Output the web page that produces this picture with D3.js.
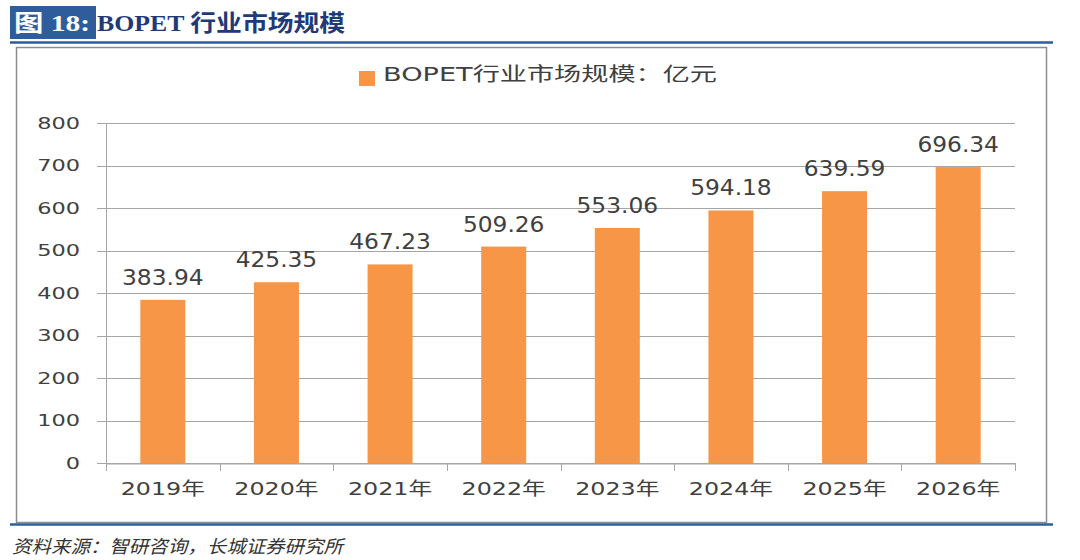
<!DOCTYPE html>
<html><head><meta charset="utf-8">
<script src="https://cdn.jsdelivr.net/npm/d3@7"></script>
<style>body{margin:0;background:#fff;} svg{display:block;}</style>
</head><body>
<svg id="c" width="1080" height="560"></svg>
<script>
const categories = ["2019年","2020年","2021年","2022年","2023年","2024年","2025年","2026年"];
const values = [383.94,425.35,467.23,509.26,553.06,594.18,639.59,696.34];
const yTicks = [0,100,200,300,400,500,600,700,800];
const seriesName = "BOPET行业市场规模：亿元";

(function(){
const svg = d3.select("#c");
const font = "'DejaVu Sans','Noto Sans CJK SC',sans-serif";
function stretch(sel, k){
  sel.each(function(){
    const w = this.getComputedTextLength();
    d3.select(this).attr("textLength", w*k).attr("lengthAdjust","spacingAndGlyphs");
  });
}
function fit(sel, w){ sel.attr("textLength", w).attr("lengthAdjust","spacingAndGlyphs"); }

// Title
svg.append("rect").attr("x",10).attr("y",6).attr("width",86).attr("height",33).attr("fill","#2F5D9B");
fit(svg.append("text").attr("x",14).attr("y",31).attr("fill","#fff").attr("font-size",23).attr("font-weight","bold")
  .attr("font-family","'Liberation Serif','Noto Sans CJK SC',serif").text("图 18:"), 76);
fit(svg.append("text").attr("x",97).attr("y",31).attr("fill","#1F3A78").attr("font-size",23).attr("font-weight","bold")
  .attr("font-family","'Liberation Serif','Noto Sans CJK SC',serif").text("BOPET 行业市场规模"), 248);
svg.append("line").attr("x1",10).attr("x2",1053).attr("y1",42.5).attr("y2",42.5).attr("stroke","#2F5D9B").attr("stroke-width",2.5);

// Frame
svg.append("rect").attr("x",16.5).attr("y",47.5).attr("width",1030).attr("height",475)
  .attr("fill","none").attr("stroke","#8c8c8c").attr("stroke-width",1.5);
svg.append("line").attr("x1",10).attr("x2",1053).attr("y1",524.5).attr("y2",524.5).attr("stroke","#2F5D9B").attr("stroke-width",2.5);

// Source
fit(svg.append("text").attr("x",12).attr("y",553).attr("fill","#333").attr("font-size",18).attr("font-style","italic")
  .attr("font-family","'Noto Sans CJK SC',sans-serif").text("资料来源：智研咨询，长城证券研究所"), 331);

// Plot
const pL=106, pR=1015, pT=123, pB=463;
const xc = d3.scaleBand().domain(categories).range([pL,pR]);
const y = d3.scaleLinear().domain([0,800]).range([pB,pT]);

const g = svg.append("g");
g.selectAll(".grid").data(yTicks).join("line")
  .attr("x1",97).attr("x2",pR).attr("y1",d=>Math.round(y(d))+0.5).attr("y2",d=>Math.round(y(d))+0.5)
  .attr("stroke","#a6a6a6").attr("stroke-width",1);

const yAxis = g.append("g").attr("transform",`translate(${pL},0)`)
  .call(d3.axisLeft(y).tickValues(yTicks).tickSize(0).tickPadding(26));
yAxis.select(".domain").attr("stroke","#a6a6a6");
yAxis.selectAll("text").attr("font-size",16).attr("fill","#404040").attr("font-family",font);
stretch(yAxis.selectAll("text"), 1.4);

g.selectAll(".bar").data(values).join("rect")
  .attr("x",(d,i)=>xc(categories[i])+xc.bandwidth()/2-22.5).attr("width",45)
  .attr("y",d=>y(d)).attr("height",d=>pB-y(d)).attr("fill","#F79646");

const xAxis = g.append("g").attr("transform",`translate(0,${pB+0.5})`)
  .call(d3.axisBottom(xc).tickSize(0).tickPadding(19));
xAxis.select(".domain").attr("stroke","#a6a6a6");
xAxis.selectAll("text").attr("font-size",18).attr("fill","#404040").attr("font-family",font);
stretch(xAxis.selectAll("text"), 1.32);
const bounds = categories.map(c=>xc(c)).concat([pR]);
g.selectAll(".xt").data(bounds).join("line")
  .attr("x1",d=>Math.round(d)+0.5).attr("x2",d=>Math.round(d)+0.5).attr("y1",pB).attr("y2",pB+8)
  .attr("stroke","#a6a6a6");

const lbl = g.selectAll(".lbl").data(values).join("text")
  .attr("x",(d,i)=>xc(categories[i])+xc.bandwidth()/2).attr("y",d=>y(d)-15)
  .attr("text-anchor","middle").attr("font-size",21).attr("fill","#404040").attr("font-family",font)
  .text(d=>d.toFixed(2));
stretch(lbl, 1.11);

svg.append("rect").attr("x",359).attr("y",71).attr("width",16).attr("height",15).attr("fill","#F79646");
fit(svg.append("text").attr("x",383).attr("y",81).attr("font-size",19).attr("fill","#404040").attr("font-family",font).text(seriesName), 334);
})();
</script>
</body></html>
